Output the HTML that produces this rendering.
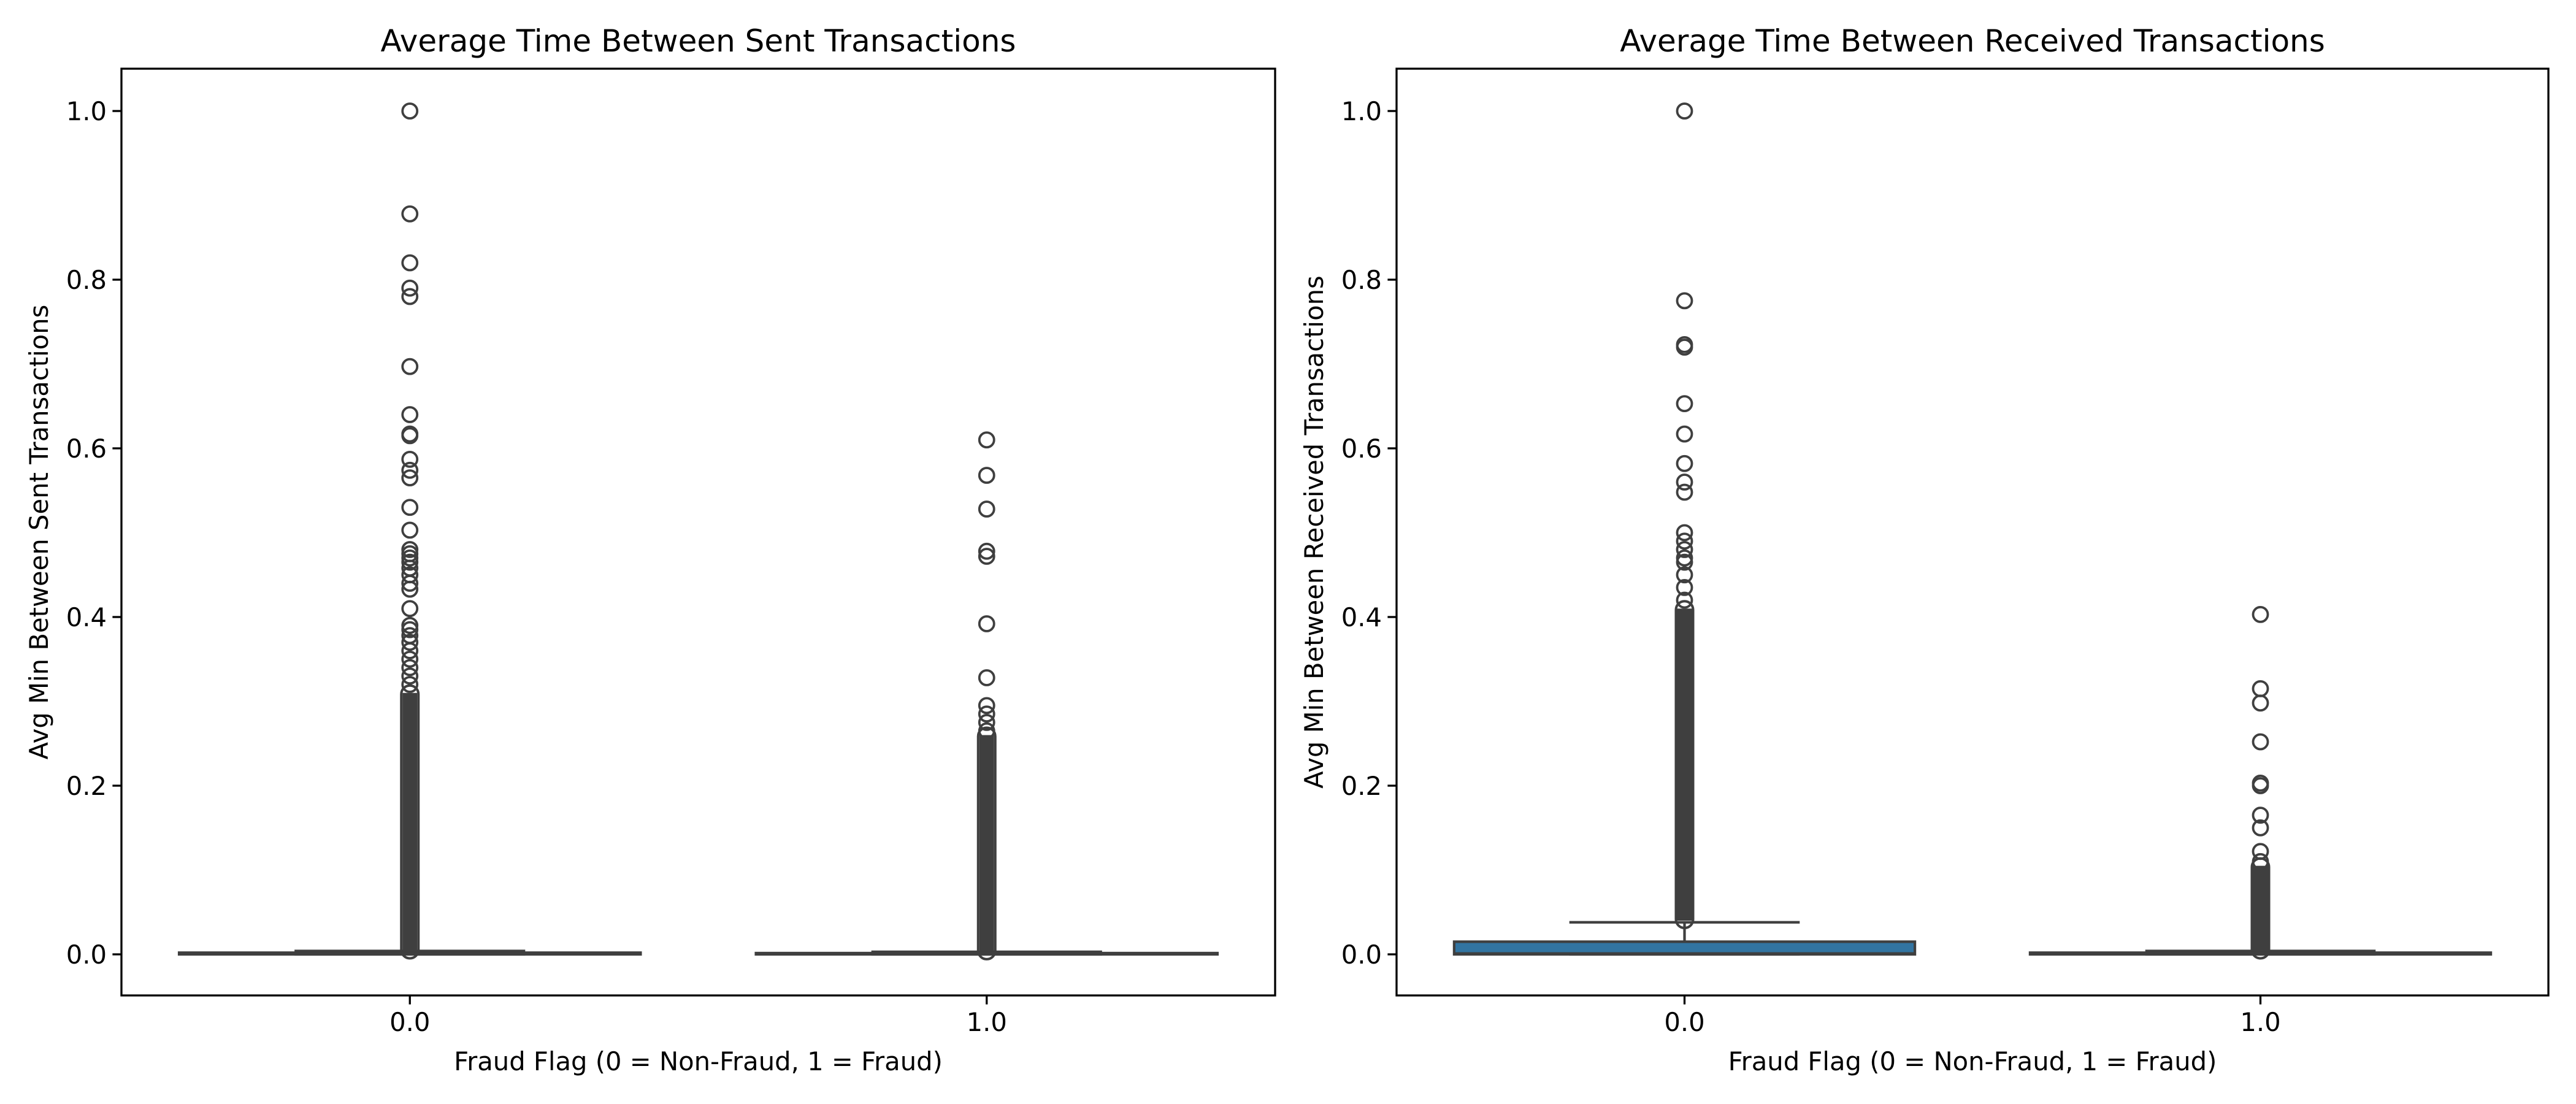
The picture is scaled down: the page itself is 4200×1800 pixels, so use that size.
<!DOCTYPE html>
<html><head><meta charset="utf-8"><style>
html,body{margin:0;padding:0;background:#fff}
svg{display:block;font-family:"DejaVu Sans","Liberation Sans",sans-serif}
</style></head><body>
<svg id="fig" width="4200" height="1800" viewBox="0 0 4200 1800" xmlns="http://www.w3.org/2000/svg"></svg>
<script>
const categories = ["0.0", "1.0"];
const yTicks = [0.0, 0.2, 0.4, 0.6, 0.8, 1.0];
const yTickLabels = ["0.0", "0.2", "0.4", "0.6", "0.8", "1.0"];
// Left panel (sent)
const sentQ1 = [0, 0];
const sentMedian = [0.0005, 0.0003];
const sentQ3 = [0.002, 0.0015];
const sentWhiskerLow = [0, 0];
const sentWhiskerHigh = [0.004, 0.003];
const sentDenseLow = [0.004, 0.003];
const sentDenseHigh = [0.31, 0.26];
const sentOutliers0 = [1.0, 0.878, 0.82, 0.79, 0.78, 0.697, 0.64, 0.617, 0.615, 0.587, 0.574, 0.565, 0.53, 0.503, 0.48, 0.475, 0.47, 0.465, 0.458, 0.45, 0.44, 0.433, 0.41, 0.39, 0.385, 0.378, 0.37, 0.36, 0.35, 0.34, 0.33, 0.32];
const sentOutliers1 = [0.61, 0.568, 0.528, 0.478, 0.472, 0.392, 0.328, 0.295, 0.285, 0.275, 0.265];
// Right panel (received)
const recvQ1 = [0, 0];
const recvMedian = [0.001, 0.0003];
const recvQ3 = [0.015, 0.002];
const recvWhiskerLow = [0, 0];
const recvWhiskerHigh = [0.038, 0.004];
const recvDenseLow = [0.04, 0.004];
const recvDenseHigh = [0.41, 0.105];
const recvOutliers0 = [1.0, 0.775, 0.723, 0.72, 0.653, 0.617, 0.582, 0.56, 0.548, 0.5, 0.49, 0.48, 0.47, 0.465, 0.45, 0.435, 0.42];
const recvOutliers1 = [0.403, 0.315, 0.298, 0.252, 0.203, 0.2, 0.165, 0.15, 0.122, 0.11];

const NS = "http://www.w3.org/2000/svg";
const svg = document.getElementById("fig");
function mk(tag, attrs, parent){const e=document.createElementNS(NS,tag);for(const k in attrs)e.setAttribute(k,attrs[k]);(parent||svg).appendChild(e);return e;}

const Y0 = 1556, PXU = 1375, TOP = 112, BOT = 1623;
function yS(v){return Y0 - v*PXU;}

function panel(cfg){
  const g = mk("g",{});
  
  
  const L=cfg.left, R=cfg.right, W=R-L;
  function xS(c){return L + W*(c+0.5)/2;}
  const edge="#3f3f3f", lw=4.2;
  for(let i=0;i<categories.length;i++){
    const cx=xS(i), bw=W/2*0.8, cw=bw/2;
    const wl = mk("line",{x1:cx,x2:cx,y1:yS(cfg.q3[i]),y2:yS(cfg.wh[i]),stroke:edge,"stroke-width":lw},g);
    
    
    const cap = mk("line",{x1:cx-cw/2,x2:cx+cw/2,y1:yS(cfg.wh[i]),y2:yS(cfg.wh[i]),stroke:edge,"stroke-width":lw},g);
    
    
    const capL = mk("line",{x1:cx-cw/2,x2:cx+cw/2,y1:yS(cfg.wl[i]),y2:yS(cfg.wl[i]),stroke:edge,"stroke-width":lw},g);
    
    
    const dy1=yS(cfg.dh[i]), dy2=yS(cfg.dl[i]);
    const dense = mk("rect",{x:cx-14,y:dy1-12,width:28,height:dy2-dy1+24,rx:14,fill:"none",stroke:edge,"stroke-width":4},g);
    
    
    const denseF = mk("rect",{x:cx-12,y:dy1,width:24,height:dy2-dy1,fill:edge},g);
    
    
    const by1=yS(cfg.q3[i]), by2=yS(cfg.q1[i]);
    const box = mk("rect",{x:cx-bw/2,y:by1,width:bw,height:Math.max(by2-by1,0.5),fill:"#3274a1",stroke:edge,"stroke-width":lw},g);
    
    
    const med = mk("line",{x1:cx-bw/2,x2:cx+bw/2,y1:yS(cfg.med[i]),y2:yS(cfg.med[i]),stroke:edge,"stroke-width":lw},g);
    
    
    for(const v of cfg.out[i]){
      const c = mk("circle",{cx:cx,cy:yS(v),r:12,fill:"none",stroke:edge,"stroke-width":3.8},g);
      
      
    }
    mk("line",{x1:cx,x2:cx,y1:BOT,y2:BOT+14.6,stroke:"#000","stroke-width":3.3},g);
    const tl = mk("text",{x:cx,y:BOT+58,"font-size":41.7,"text-anchor":"middle"},g);
    tl.textContent=categories[i];
    
    
  }
  for(let j=0;j<yTicks.length;j++){
    const y=yS(yTicks[j]);
    mk("line",{x1:L-14.6,x2:L,y1:y,y2:y,stroke:"#000","stroke-width":3.3},g);
    const t = mk("text",{x:L-24,y:y+15,"font-size":41.7,"text-anchor":"end"},g);
    t.textContent=yTickLabels[j];
    
    
  }
  const fr = mk("rect",{x:L,y:TOP,width:W,height:BOT-TOP,fill:"none",stroke:"#000","stroke-width":3.3},g);
  
  
  const ti = mk("text",{x:L+W/2,y:84,"font-size":50,"text-anchor":"middle"},g);
  ti.textContent=cfg.title;
  
  
  const xl = mk("text",{x:L+W/2,y:1745,"font-size":41.7,"text-anchor":"middle"},g);
  xl.textContent="Fraud Flag (0 = Non-Fraud, 1 = Fraud)";
  
  
  const yc=(TOP+BOT)/2;
  const yl = mk("text",{x:cfg.ylx,y:yc,"font-size":41.7,"text-anchor":"middle",transform:`rotate(-90 ${cfg.ylx} ${yc})`},g);
  yl.textContent=cfg.ylabel;
  
  
}
panel({name:"sent-panel",left:198,right:2079,title:"Average Time Between Sent Transactions",ylabel:"Avg Min Between Sent Transactions",ylx:78,
  q1:sentQ1,q3:sentQ3,med:sentMedian,wl:sentWhiskerLow,wh:sentWhiskerHigh,dl:sentDenseLow,dh:sentDenseHigh,out:[sentOutliers0,sentOutliers1]});
panel({name:"received-panel",left:2277,right:4155,title:"Average Time Between Received Transactions",ylabel:"Avg Min Between Received Transactions",ylx:2157,
  q1:recvQ1,q3:recvQ3,med:recvMedian,wl:recvWhiskerLow,wh:recvWhiskerHigh,dl:recvDenseLow,dh:recvDenseHigh,out:[recvOutliers0,recvOutliers1]});
</script>
</body></html>
